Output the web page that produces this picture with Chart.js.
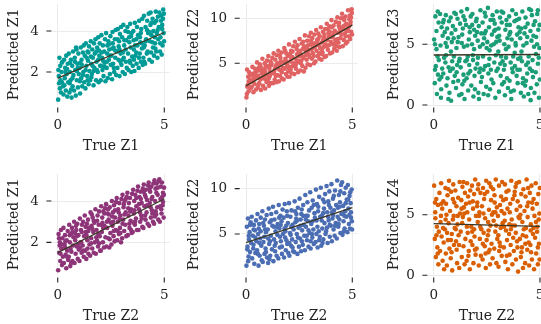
<!DOCTYPE html>
<html><head><meta charset="utf-8">
<script src="https://cdn.jsdelivr.net/npm/chart.js@4/dist/chart.umd.min.js"></script>
<style>
html,body{margin:0;padding:0;background:#fff;overflow:hidden;width:541px;height:324px;position:relative}
canvas{position:absolute;display:block}
</style></head><body>
<script>
// ---- data ----
const trueZ1_predZ1 = [[0.02,0.65],[0.05,1.8],[0.08,2.7],[0.1,1.2],[0.12,2.3],[0.15,1.0],[0.18,2.0],[0.2,1.5],[0.22,2.5],[0.24,1.3],[0.03,2.1],
[0.27,0.9],[0.3,2.6],[0.33,1.7],[0.35,2.2],[0.38,1.1],[0.4,2.8],[0.42,1.9],[0.45,0.8],[0.47,2.4],[0.49,1.5],[0.31,1.35],
[0.52,2.9],[0.55,1.0],[0.57,2.0],[0.6,1.6],[0.62,2.6],[0.65,0.75],[0.68,2.3],[0.7,1.3],[0.72,3.0],[0.74,1.85],[0.58,2.45],
[0.77,1.1],[0.8,2.7],[0.82,2.1],[0.85,0.85],[0.88,3.1],[0.9,1.6],[0.92,2.4],[0.95,1.25],[0.97,2.9],[0.99,1.9],[0.86,3.2],
[1.02,2.2],[1.05,0.95],[1.08,3.2],[1.1,1.7],[1.12,2.6],[1.15,1.3],[1.18,2.95],[1.2,2.0],[1.22,3.3],[1.24,1.5],[1.06,2.45],
[1.27,2.8],[1.3,1.2],[1.32,3.4],[1.35,2.3],[1.38,1.8],[1.4,3.0],[1.42,2.55],[1.45,1.4],[1.47,3.25],[1.49,2.05],[1.36,2.7],
[1.52,1.6],[1.55,3.5],[1.57,2.4],[1.6,1.9],[1.62,3.1],[1.65,2.7],[1.68,1.35],[1.7,3.4],[1.72,2.2],[1.74,2.9],[1.58,1.75],
[1.77,3.6],[1.8,1.6],[1.82,2.5],[1.85,3.2],[1.88,2.0],[1.9,3.7],[1.92,1.5],[1.95,2.8],[1.97,3.4],[1.99,2.3],[1.84,2.1],
[2.02,1.6],[2.05,3.8],[2.08,2.7],[2.1,2.1],[2.12,3.3],[2.15,1.8],[2.18,3.0],[2.2,2.45],[2.22,3.6],[2.24,1.55],[2.06,2.95],
[2.27,3.9],[2.3,2.2],[2.32,2.9],[2.35,1.7],[2.38,3.5],[2.4,2.6],[2.42,3.1],[2.45,1.9],[2.47,3.75],[2.49,2.35],[2.33,3.3],
[2.52,2.8],[2.55,1.65],[2.57,3.95],[2.6,2.4],[2.62,3.2],[2.65,2.0],[2.68,3.6],[2.7,2.7],[2.72,4.05],[2.74,1.85],[2.58,3.4],
[2.77,3.0],[2.8,2.2],[2.82,4.1],[2.85,2.6],[2.88,3.5],[2.9,1.8],[2.92,3.85],[2.95,2.9],[2.97,4.2],[2.99,2.35],[2.86,3.25],
[3.02,3.7],[3.05,2.0],[3.08,4.3],[3.1,2.7],[3.12,3.3],[3.15,1.9],[3.18,4.0],[3.2,2.5],[3.22,3.55],[3.24,2.2],[3.06,2.95],
[3.27,4.2],[3.3,2.9],[3.32,2.1],[3.35,3.7],[3.38,2.55],[3.4,4.35],[3.42,3.2],[3.45,2.0],[3.47,3.9],[3.49,2.75],[3.36,3.45],
[3.52,2.3],[3.55,4.0],[3.57,3.1],[3.6,2.05],[3.62,4.4],[3.65,2.8],[3.68,3.6],[3.7,2.4],[3.72,4.2],[3.74,3.3],[3.58,2.6],
[3.77,3.8],[3.8,2.2],[3.82,4.5],[3.85,2.9],[3.88,3.45],[3.9,2.5],[3.92,4.1],[3.95,3.15],[3.97,4.6],[3.99,2.35],[3.86,3.7],
[4.02,2.7],[4.05,4.75],[4.08,3.3],[4.1,2.4],[4.12,4.2],[4.15,3.6],[4.18,2.9],[4.2,4.5],[4.22,3.0],[4.24,3.9],[4.06,2.5],
[4.27,4.85],[4.3,2.6],[4.32,3.5],[4.35,4.3],[4.38,2.95],[4.4,3.8],[4.42,2.5],[4.45,4.6],[4.47,3.2],[4.49,4.0],[4.36,4.9],
[4.52,2.8],[4.55,4.4],[4.57,3.4],[4.6,4.95],[4.62,3.0],[4.65,3.9],[4.68,2.7],[4.7,4.7],[4.72,3.6],[4.74,4.2],[4.58,3.15],
[4.77,4.9],[4.8,3.0],[4.82,3.7],[4.85,4.5],[4.88,2.85],[4.9,4.1],[4.92,3.3],[4.95,5.05],[4.97,3.9],[4.99,3.5],[4.86,4.75],
[0.13,1.6],[0.36,2.0],[0.63,1.15],[0.9,2.05],[1.13,2.35],[1.4,1.6],[1.63,2.3],[1.9,2.6],[2.13,2.55],[2.4,3.35],[2.63,2.2],[2.9,3.1],[3.13,3.55],[3.4,2.45],[3.63,3.3],[3.9,3.9],[4.13,3.5],[4.4,4.4],[4.63,4.5],[4.9,4.3],
[0.06,1.45],[0.44,2.15],[0.69,1.7],[0.94,2.2],[1.19,1.85],[1.44,2.95],[1.69,2.05],[1.94,3.05],[2.19,2.25],[2.44,2.8],[2.69,3.05],[2.94,2.5],[3.19,3.1],[3.44,3.75],[3.69,2.95],[3.94,3.4],[4.19,4.05],[4.44,3.45],[4.69,4.05],[4.94,4.6],
[0.19,2.45],[0.56,1.45],[0.81,2.5],[1.04,1.55],[1.31,2.1],[1.56,2.75],[1.81,3.0],[2.04,2.3],[2.31,2.5],[2.56,3.15],[2.81,3.6],[3.04,2.6],[3.31,3.95],[3.56,3.55],[3.81,2.7],[4.04,3.2],[4.31,3.95],[4.56,3.7],[4.81,3.4],[4.98,4.85]];

const trueZ1_predZ2 = [[0.02,1.2],[0.05,4.3],[0.08,2.6],[0.1,3.5],[0.12,1.9],[0.15,4.0],[0.18,2.9],[0.2,3.2],[0.22,2.2],[0.24,3.8],[0.04,1.6],
[0.27,2.4],[0.3,4.6],[0.33,3.0],[0.35,1.8],[0.38,3.9],[0.4,2.7],[0.42,4.4],[0.45,3.4],[0.47,2.1],[0.49,4.1],[0.32,3.7],
[0.52,5.1],[0.55,2.3],[0.57,3.6],[0.6,4.5],[0.62,2.8],[0.65,4.9],[0.68,3.2],[0.7,2.05],[0.72,4.2],[0.74,3.9],[0.58,2.6],
[0.77,5.5],[0.8,2.5],[0.82,4.0],[0.85,3.3],[0.88,5.0],[0.9,2.2],[0.92,4.6],[0.95,3.7],[0.97,2.9],[0.99,5.3],[0.84,4.3],
[1.02,3.0],[1.05,5.8],[1.08,2.5],[1.1,4.4],[1.12,3.6],[1.15,5.2],[1.18,2.8],[1.2,4.8],[1.22,3.9],[1.24,5.6],[1.07,3.3],
[1.27,2.8],[1.3,6.1],[1.32,4.1],[1.35,3.2],[1.38,5.4],[1.4,4.6],[1.42,2.9],[1.45,5.9],[1.47,3.7],[1.49,5.0],[1.36,4.4],
[1.52,6.4],[1.55,3.0],[1.57,4.8],[1.6,3.6],[1.62,5.6],[1.65,4.2],[1.68,6.2],[1.7,3.3],[1.72,5.1],[1.74,4.5],[1.58,5.9],
[1.77,3.2],[1.8,6.7],[1.82,4.4],[1.85,5.5],[1.88,3.8],[1.9,6.1],[1.92,4.9],[1.95,3.5],[1.97,5.8],[1.99,4.1],[1.84,6.4],
[2.02,7.1],[2.05,3.5],[2.08,5.2],[2.1,4.3],[2.12,6.4],[2.15,3.9],[2.18,5.7],[2.2,4.7],[2.22,6.9],[2.24,5.0],[2.06,6.0],
[2.27,3.8],[2.3,7.4],[2.32,5.5],[2.35,4.4],[2.38,6.6],[2.4,5.1],[2.42,7.0],[2.45,4.0],[2.47,6.2],[2.49,5.8],[2.34,4.8],
[2.52,7.7],[2.55,4.2],[2.57,6.0],[2.6,5.3],[2.62,7.2],[2.65,4.7],[2.68,6.6],[2.7,5.6],[2.72,4.1],[2.74,6.9],[2.58,5.0],
[2.77,8.1],[2.8,4.5],[2.82,6.3],[2.85,5.4],[2.88,7.5],[2.9,4.9],[2.92,7.0],[2.95,6.0],[2.97,8.0],[2.99,5.7],[2.86,6.7],
[3.02,4.8],[3.05,8.4],[3.08,6.5],[3.1,5.5],[3.12,7.8],[3.15,6.1],[3.18,7.2],[3.2,5.0],[3.22,8.2],[3.24,6.8],[3.06,7.5],
[3.27,5.2],[3.3,8.7],[3.32,6.4],[3.35,7.6],[3.38,5.8],[3.4,8.3],[3.42,7.0],[3.45,5.5],[3.47,8.0],[3.49,6.7],[3.36,7.3],
[3.52,9.0],[3.55,5.4],[3.57,7.3],[3.6,6.2],[3.62,8.5],[3.65,6.8],[3.68,7.9],[3.7,5.7],[3.72,8.8],[3.74,7.1],[3.58,6.0],
[3.77,5.8],[3.8,9.4],[3.82,7.6],[3.85,6.5],[3.88,8.4],[3.9,7.0],[3.92,9.1],[3.95,6.1],[3.97,8.0],[3.99,7.4],[3.86,8.8],
[4.02,9.8],[4.05,6.2],[4.08,8.1],[4.1,7.1],[4.12,9.2],[4.15,6.6],[4.18,8.6],[4.2,7.6],[4.22,9.6],[4.24,6.9],[4.06,7.9],
[4.27,6.4],[4.3,10.1],[4.32,8.4],[4.35,7.3],[4.38,9.5],[4.4,6.8],[4.42,8.9],[4.45,7.8],[4.47,10.0],[4.49,8.2],[4.36,9.2],
[4.52,10.5],[4.55,6.9],[4.57,8.8],[4.6,7.6],[4.62,9.8],[4.65,8.3],[4.68,10.2],[4.7,7.2],[4.72,9.4],[4.74,8.6],[4.58,9.1],
[4.77,7.4],[4.8,10.9],[4.82,9.0],[4.85,8.0],[4.88,10.3],[4.9,7.7],[4.92,9.6],[4.95,8.5],[4.97,11.0],[4.99,8.2],[4.86,9.9],
[0.13,3.0],[0.36,3.3],[0.63,3.4],[0.9,4.1],[1.13,4.0],[1.4,3.6],[1.63,5.2],[1.9,5.2],[2.13,5.5],[2.4,6.0],[2.63,5.8],[2.9,6.4],[3.13,6.7],[3.4,7.7],[3.63,7.6],[3.9,8.0],[4.13,8.4],[4.4,9.0],[4.63,9.2],[4.9,9.3],
[0.06,2.4],[0.44,3.7],[0.69,4.6],[0.94,3.2],[1.19,5.0],[1.44,4.9],[1.69,4.0],[1.94,4.6],[2.19,6.3],[2.44,5.3],[2.69,7.4],[2.94,6.5],[3.19,5.8],[3.44,6.1],[3.69,8.2],[3.94,8.5],[4.19,7.2],[4.44,8.6],[4.69,8.0],[4.94,10.1],
[0.19,3.7],[0.56,4.2],[0.81,3.6],[1.04,4.7],[1.31,3.9],[1.56,4.3],[1.81,5.1],[2.04,4.6],[2.31,4.9],[2.56,6.4],[2.81,5.9],[3.04,7.1],[3.31,7.3],[3.56,6.5],[3.81,6.9],[4.04,9.0],[4.31,7.7],[4.56,10.0],[4.81,8.6],[4.98,10.6]];

const trueZ1_predZ3 = [[0.02,5.4],[0.05,1.8],[0.08,7.3],[0.1,3.2],[0.13,6.1],[0.15,0.9],[0.18,4.0],[0.2,2.5],[0.23,6.8],[0.24,3.7],[0.06,5.0],
[0.27,2.1],[0.3,7.5],[0.32,4.9],[0.35,1.3],[0.37,6.4],[0.4,3.0],[0.42,5.7],[0.45,2.6],[0.47,7.0],[0.49,3.9],[0.34,0.6],
[0.52,6.0],[0.55,3.5],[0.57,7.4],[0.6,1.6],[0.62,4.8],[0.65,2.2],[0.67,5.5],[0.7,3.1],[0.72,6.9],[0.74,1.0],[0.58,4.1],
[0.77,2.8],[0.8,7.2],[0.82,0.35],[0.85,5.2],[0.87,3.6],[0.9,6.5],[0.92,1.9],[0.95,4.0],[0.97,7.6],[0.99,2.4],[0.84,5.9],
[1.02,6.2],[1.05,1.4],[1.07,4.7],[1.1,3.3],[1.12,7.1],[1.15,2.0],[1.17,5.6],[1.2,0.8],[1.22,3.8],[1.24,6.7],[1.08,2.7],
[1.27,3.1],[1.3,7.7],[1.32,5.1],[1.35,1.7],[1.37,6.3],[1.4,2.5],[1.42,4.8],[1.45,0.5],[1.47,7.0],[1.49,3.6],[1.34,5.8],
[1.52,6.6],[1.55,2.2],[1.57,7.9],[1.6,4.0],[1.62,1.2],[1.65,5.4],[1.67,3.3],[1.7,6.0],[1.72,2.8],[1.74,7.3],[1.58,4.9],
[1.77,1.6],[1.8,5.0],[1.82,7.5],[1.85,3.7],[1.87,0.7],[1.9,6.2],[1.92,2.4],[1.95,5.7],[1.97,3.0],[1.99,6.9],[1.84,4.1],
[2.02,7.1],[2.05,3.4],[2.07,5.3],[2.1,1.0],[2.12,6.5],[2.15,2.7],[2.17,4.8],[2.2,7.8],[2.22,1.9],[2.24,5.9],[2.08,3.9],
[2.27,2.3],[2.3,6.8],[2.32,4.0],[2.35,0.9],[2.37,5.5],[2.4,7.6],[2.42,3.2],[2.45,6.1],[2.47,1.5],[2.49,4.7],[2.34,2.9],
[2.52,5.2],[2.55,8.0],[2.57,2.6],[2.6,6.4],[2.62,3.8],[2.65,1.3],[2.67,7.0],[2.7,4.9],[2.72,2.1],[2.74,5.8],[2.58,3.3],
[2.77,7.4],[2.8,1.8],[2.82,5.0],[2.85,3.5],[2.87,6.7],[2.9,0.6],[2.92,4.1],[2.95,2.8],[2.97,7.7],[2.99,5.6],[2.84,6.1],
[3.02,3.0],[3.05,6.3],[3.07,1.1],[3.1,5.3],[3.12,7.2],[3.15,2.4],[3.17,4.0],[3.2,6.8],[3.22,1.7],[3.24,3.6],[3.08,5.7],
[3.27,7.6],[3.3,2.9],[3.32,5.0],[3.35,0.8],[3.37,6.2],[3.4,3.9],[3.42,7.0],[3.45,2.2],[3.47,5.5],[3.49,1.4],[3.34,3.3],
[3.52,4.8],[3.55,7.3],[3.57,2.0],[3.6,6.0],[3.62,3.5],[3.65,0.5],[3.67,5.4],[3.7,7.8],[3.72,2.7],[3.74,4.0],[3.58,6.6],
[3.77,1.2],[3.8,6.9],[3.82,3.2],[3.85,5.1],[3.87,7.5],[3.9,2.4],[3.92,5.8],[3.95,1.8],[3.97,3.8],[3.99,6.4],[3.86,4.9],
[4.02,7.1],[4.05,2.9],[4.07,5.5],[4.1,1.0],[4.12,6.3],[4.15,3.6],[4.17,7.7],[4.2,2.2],[4.22,4.9],[4.24,0.7],[4.08,3.9],
[4.27,5.9],[4.3,1.6],[4.32,7.2],[4.35,3.3],[4.37,5.1],[4.4,2.6],[4.42,6.7],[4.45,0.9],[4.47,4.0],[4.49,7.9],[4.34,2.0],
[4.52,3.0],[4.55,6.1],[4.57,1.4],[4.6,5.3],[4.62,7.4],[4.65,3.7],[4.67,2.3],[4.7,6.6],[4.72,4.8],[4.74,1.0],[4.58,7.8],
[4.77,6.9],[4.8,2.7],[4.82,5.6],[4.85,1.7],[4.87,7.5],[4.9,3.4],[4.92,6.2],[4.95,0.6],[4.97,4.7],[4.99,2.1],[4.86,5.0],
[0.13,4.6],[0.36,2.3],[0.63,6.3],[0.9,3.0],[1.13,5.2],[1.4,7.3],[1.63,2.6],[1.9,4.6],[2.13,0.5],[2.4,5.9],[2.63,4.5],[2.9,6.2],[3.13,3.4],[3.4,4.6],[3.63,1.1],[3.9,7.0],[4.13,4.4],[4.4,5.6],[4.63,2.8],[4.9,7.8],
[0.06,2.9],[0.44,6.8],[0.69,0.5],[0.94,5.5],[1.19,3.6],[1.44,2.0],[1.69,6.4],[1.94,1.3],[2.19,3.0],[2.44,7.3],[2.69,2.9],[2.94,5.2],[3.19,7.7],[3.44,6.6],[3.69,3.0],[3.94,2.9],[4.19,1.8],[4.44,3.5],[4.69,5.7],[4.94,3.9],
[0.19,7.7],[0.56,5.1],[0.81,4.4],[1.04,7.5],[1.31,0.9],[1.56,3.7],[1.81,6.6],[2.04,6.0],[2.31,5.0],[2.56,0.8],[2.81,7.0],[3.04,4.4],[3.31,1.9],[3.56,5.8],[3.81,4.3],[4.04,6.0],[4.31,6.4],[4.56,0.4],[4.81,4.2],[4.98,6.6]];

const trueZ2_predZ1 = [[0.02,0.65],[0.04,2.4],[0.07,1.5],[0.1,2.0],[0.12,1.1],[0.15,2.6],[0.17,1.7],[0.2,0.9],[0.22,2.2],[0.24,1.3],[0.09,1.85],
[0.27,2.7],[0.29,1.0],[0.32,1.9],[0.34,2.35],[0.37,1.4],[0.4,0.75],[0.42,2.1],[0.44,1.6],[0.47,2.55],[0.49,1.15],[0.35,1.75],
[0.52,1.3],[0.54,2.85],[0.57,2.0],[0.59,0.85],[0.62,2.4],[0.64,1.55],[0.67,2.7],[0.69,1.1],[0.72,1.85],[0.74,2.25],[0.6,1.7],
[0.77,3.0],[0.79,1.0],[0.82,2.1],[0.84,1.45],[0.87,2.6],[0.89,1.8],[0.92,2.9],[0.94,1.2],[0.97,2.35],[0.99,1.65],[0.86,2.8],
[1.02,1.1],[1.04,3.15],[1.07,2.0],[1.09,2.6],[1.12,1.5],[1.14,2.85],[1.17,1.85],[1.19,3.0],[1.22,1.3],[1.24,2.3],[1.1,2.0],
[1.27,3.3],[1.29,1.6],[1.32,2.5],[1.34,1.2],[1.37,2.9],[1.39,2.1],[1.42,3.1],[1.44,1.45],[1.47,2.7],[1.49,1.9],[1.35,2.35],
[1.52,1.35],[1.54,3.45],[1.57,2.2],[1.59,2.8],[1.62,1.7],[1.64,3.2],[1.67,2.5],[1.69,1.5],[1.72,2.95],[1.74,2.0],[1.6,3.35],
[1.77,3.6],[1.79,1.45],[1.82,2.6],[1.84,2.1],[1.87,3.3],[1.89,1.8],[1.92,2.85],[1.94,3.5],[1.97,2.3],[1.99,1.6],[1.85,3.05],
[2.02,1.6],[2.04,3.75],[2.07,2.5],[2.09,3.2],[2.12,2.0],[2.14,3.5],[2.17,1.75],[2.19,2.8],[2.22,3.65],[2.24,2.25],[2.1,2.95],
[2.27,3.85],[2.29,1.8],[2.32,2.7],[2.34,3.4],[2.37,2.2],[2.39,3.1],[2.42,1.75],[2.44,3.7],[2.47,2.45],[2.49,2.95],[2.36,3.6],
[2.52,1.9],[2.54,4.0],[2.57,2.8],[2.59,3.45],[2.62,2.3],[2.64,3.8],[2.67,2.05],[2.69,3.2],[2.72,2.6],[2.74,3.95],[2.6,3.0],
[2.77,4.15],[2.79,2.1],[2.82,3.0],[2.84,3.6],[2.87,2.4],[2.89,3.9],[2.92,2.7],[2.94,3.3],[2.97,2.0],[2.99,4.1],[2.86,3.45],
[3.02,2.2],[3.04,4.3],[3.07,3.1],[3.09,3.7],[3.12,2.55],[3.14,4.0],[3.17,2.85],[3.19,3.45],[3.22,2.3],[3.24,4.2],[3.1,3.85],
[3.27,4.4],[3.29,2.35],[3.32,3.3],[3.34,3.9],[3.37,2.7],[3.39,4.15],[3.42,3.05],[3.44,3.6],[3.47,2.45],[3.49,4.35],[3.36,2.9],
[3.52,2.5],[3.54,4.55],[3.57,3.4],[3.59,4.0],[3.62,2.85],[3.64,4.3],[3.67,3.15],[3.69,3.75],[3.72,2.6],[3.74,4.5],[3.6,3.55],
[3.77,4.7],[3.79,2.6],[3.82,3.6],[3.84,4.2],[3.87,3.0],[3.89,4.45],[3.92,3.3],[3.94,3.9],[3.97,2.75],[3.99,4.6],[3.86,3.45],
[4.02,2.7],[4.04,4.8],[4.07,3.75],[4.09,4.3],[4.12,3.1],[4.14,4.55],[4.17,3.45],[4.19,4.05],[4.22,2.9],[4.24,4.75],[4.1,3.3],
[4.27,4.9],[4.29,2.8],[4.32,3.9],[4.34,4.45],[4.37,3.2],[4.39,4.7],[4.42,3.55],[4.44,4.2],[4.47,3.0],[4.49,4.85],[4.36,3.7],
[4.52,2.9],[4.54,5.0],[4.57,4.0],[4.59,4.6],[4.62,3.35],[4.64,4.85],[4.67,3.7],[4.69,4.3],[4.72,3.1],[4.74,4.95],[4.6,3.5],
[4.77,5.05],[4.79,3.0],[4.82,4.1],[4.84,4.7],[4.87,3.4],[4.89,4.9],[4.92,3.8],[4.94,4.4],[4.97,3.2],[4.99,4.65],[4.86,3.6],
[0.13,1.45],[0.36,2.05],[0.63,1.0],[0.9,2.3],[1.13,2.5],[1.4,1.7],[1.63,2.65],[1.9,2.4],[2.13,2.7],[2.4,3.35],[2.63,2.55],[2.9,3.15],[3.13,3.35],[3.4,3.5],[3.63,3.0],[3.9,4.1],[4.13,4.2],[4.4,4.1],[4.63,4.4],[4.9,4.2],
[0.06,2.2],[0.44,1.3],[0.69,2.5],[0.94,1.9],[1.19,1.6],[1.44,2.55],[1.69,3.05],[1.94,1.95],[2.19,3.4],[2.44,2.15],[2.69,3.55],[2.94,2.45],[3.19,4.1],[3.44,2.6],[3.69,4.15],[3.94,3.15],[4.19,3.8],[4.44,3.4],[4.69,4.65],[4.94,3.95],
[0.19,1.9],[0.56,2.35],[0.81,2.45],[1.04,1.75],[1.31,2.75],[1.56,1.95],[1.81,2.25],[2.04,2.85],[2.31,3.0],[2.56,3.25],[2.81,2.55],[3.04,2.9],[3.31,3.65],[3.56,2.95],[3.81,3.85],[4.04,4.45],[4.31,4.6],[4.56,3.25],[4.81,3.75],[4.98,4.3]];

const trueZ2_predZ2 = [[0.02,1.5],[0.04,5.8],[0.07,3.6],[0.09,6.7],[0.12,2.5],[0.14,4.4],[0.17,5.2],[0.19,3.0],[0.22,6.3],[0.24,4.0],[0.1,2.0],
[0.27,6.9],[0.29,2.3],[0.32,4.8],[0.34,3.4],[0.37,6.0],[0.39,1.7],[0.42,5.4],[0.44,2.9],[0.47,6.5],[0.49,4.2],[0.35,3.8],
[0.52,3.2],[0.54,7.2],[0.57,5.0],[0.59,1.5],[0.62,6.1],[0.64,2.6],[0.67,4.5],[0.69,6.8],[0.72,3.7],[0.74,2.1],[0.6,5.6],
[0.77,7.5],[0.79,1.9],[0.82,4.1],[0.84,5.9],[0.87,2.8],[0.89,6.6],[0.92,3.4],[0.94,5.2],[0.97,7.1],[0.99,2.4],[0.86,4.7],
[1.02,5.5],[1.04,1.8],[1.07,7.8],[1.09,3.9],[1.12,6.3],[1.14,2.6],[1.17,4.8],[1.19,7.2],[1.22,3.3],[1.24,5.9],[1.1,2.2],
[1.27,8.0],[1.29,2.0],[1.32,4.4],[1.34,6.6],[1.37,3.1],[1.39,5.3],[1.42,7.4],[1.44,2.6],[1.47,4.9],[1.49,6.1],[1.35,3.7],
[1.52,2.3],[1.54,8.2],[1.57,5.6],[1.59,3.5],[1.62,7.0],[1.64,4.2],[1.67,6.4],[1.69,2.8],[1.72,7.7],[1.74,5.0],[1.6,4.7],
[1.77,6.8],[1.79,2.4],[1.82,8.3],[1.84,4.6],[1.87,3.2],[1.89,5.9],[1.92,7.5],[1.94,3.9],[1.97,6.2],[1.99,2.9],[1.85,5.3],
[2.02,8.4],[2.04,2.6],[2.07,5.1],[2.09,6.9],[2.12,3.7],[2.14,7.6],[2.17,4.4],[2.19,6.0],[2.22,3.1],[2.24,5.5],[2.1,4.9],
[2.27,3.0],[2.29,8.6],[2.32,6.3],[2.34,4.1],[2.37,7.2],[2.39,5.0],[2.42,2.8],[2.44,7.9],[2.47,5.7],[2.49,3.6],[2.36,6.7],
[2.52,8.9],[2.54,4.5],[2.57,6.6],[2.59,3.1],[2.62,7.7],[2.64,5.4],[2.67,3.8],[2.69,8.2],[2.72,6.0],[2.74,4.8],[2.6,7.2],
[2.77,3.2],[2.79,9.3],[2.82,5.8],[2.84,7.0],[2.87,4.3],[2.89,8.5],[2.92,6.4],[2.94,3.6],[2.97,7.6],[2.99,5.1],[2.86,4.8],
[3.02,9.6],[3.04,3.4],[3.07,6.1],[3.09,7.9],[3.12,4.6],[3.14,8.7],[3.17,5.5],[3.19,3.9],[3.22,7.3],[3.24,6.8],[3.1,5.0],
[3.27,4.1],[3.29,9.9],[3.32,6.5],[3.34,8.3],[3.37,3.5],[3.39,7.5],[3.42,5.3],[3.44,9.1],[3.47,4.7],[3.49,6.9],[3.36,5.8],
[3.52,10.1],[3.54,3.7],[3.57,7.0],[3.59,5.6],[3.62,8.8],[3.64,4.4],[3.67,7.8],[3.69,6.2],[3.72,9.4],[3.74,5.0],[3.6,4.0],
[3.77,5.3],[3.79,10.3],[3.82,7.4],[3.84,4.0],[3.87,8.6],[3.89,6.5],[3.92,9.7],[3.94,4.7],[3.97,7.9],[3.99,5.9],[3.86,6.9],
[4.02,10.5],[4.04,4.2],[4.07,6.7],[4.09,8.9],[4.12,5.5],[4.14,7.6],[4.17,4.8],[4.19,9.8],[4.22,6.2],[4.24,8.2],[4.1,7.1],
[4.27,4.5],[4.29,10.9],[4.32,7.9],[4.34,5.8],[4.37,9.3],[4.39,6.6],[4.42,8.5],[4.44,5.1],[4.47,10.4],[4.49,7.2],[4.36,6.1],
[4.52,10.7],[4.54,4.9],[4.57,8.1],[4.59,6.4],[4.62,9.5],[4.64,5.6],[4.67,7.5],[4.69,10.1],[4.72,6.9],[4.74,8.8],[4.6,5.3],
[4.77,5.2],[4.79,10.4],[4.82,7.8],[4.84,6.1],[4.87,9.2],[4.89,5.6],[4.92,8.4],[4.94,6.8],[4.97,9.9],[4.99,5.5],[4.86,7.1],
[0.13,4.8],[0.36,5.5],[0.63,4.0],[0.9,5.5],[1.13,4.2],[1.4,4.0],[1.63,6.0],[1.9,4.3],[2.13,5.8],[2.4,6.5],[2.63,4.2],[2.9,7.0],[3.13,6.4],[3.4,8.0],[3.63,7.3],[3.9,8.2],[4.13,9.2],[4.4,8.0],[4.63,7.0],[4.9,9.6],
[0.06,3.3],[0.44,4.6],[0.69,5.3],[0.94,3.0],[1.19,6.5],[1.44,5.8],[1.69,3.6],[1.94,7.0],[2.19,3.5],[2.44,4.6],[2.69,7.0],[2.94,5.4],[3.19,8.2],[3.44,4.3],[3.69,8.5],[3.94,6.0],[4.19,5.9],[4.44,9.7],[4.69,8.4],[4.94,7.4],
[0.19,6.0],[0.56,2.8],[0.81,6.2],[1.04,4.5],[1.31,5.8],[1.56,6.8],[1.81,5.6],[2.04,4.0],[2.31,7.5],[2.56,5.9],[2.81,6.6],[3.04,4.2],[3.31,5.0],[3.56,6.5],[3.81,5.7],[4.04,7.4],[4.31,6.9],[4.56,7.2],[4.81,8.8],[4.98,6.4]];

const trueZ2_predZ4 = [[0.02,7.4],[0.05,3.0],[0.07,5.2],[0.1,1.5],[0.12,6.3],[0.15,4.0],[0.17,2.3],[0.2,5.8],[0.22,0.9],[0.24,3.6],[0.08,4.7],
[0.27,6.8],[0.3,2.0],[0.32,4.4],[0.35,7.6],[0.37,3.2],[0.4,5.5],[0.42,1.2],[0.45,6.1],[0.47,2.7],[0.49,0.5],[0.34,4.9],
[0.52,3.8],[0.55,7.2],[0.57,1.8],[0.6,5.0],[0.62,0.8],[0.65,6.6],[0.67,2.9],[0.7,4.3],[0.72,7.8],[0.74,2.2],[0.58,5.9],
[0.77,5.3],[0.8,1.4],[0.82,6.9],[0.85,3.4],[0.87,0.4],[0.9,4.6],[0.92,7.5],[0.95,2.5],[0.97,6.0],[0.99,3.9],[0.84,1.9],
[1.02,7.0],[1.05,2.8],[1.07,5.7],[1.1,1.0],[1.12,4.2],[1.15,6.4],[1.17,3.3],[1.2,0.6],[1.22,7.7],[1.24,5.1],[1.08,2.1],
[1.27,3.6],[1.3,6.2],[1.32,1.5],[1.35,7.3],[1.37,4.8],[1.4,2.4],[1.42,5.6],[1.45,0.9],[1.47,6.8],[1.49,3.0],[1.34,4.3],
[1.52,5.9],[1.55,1.2],[1.57,7.6],[1.6,3.5],[1.62,6.5],[1.65,2.0],[1.67,4.6],[1.7,0.5],[1.72,7.0],[1.74,2.8],[1.58,5.2],
[1.77,4.0],[1.8,7.4],[1.82,2.5],[1.85,5.5],[1.87,1.0],[1.9,6.7],[1.92,3.2],[1.95,7.9],[1.97,1.7],[1.99,4.9],[1.84,6.1],
[2.02,2.2],[2.05,6.0],[2.07,4.4],[2.1,7.5],[2.12,0.8],[2.15,5.2],[2.17,3.0],[2.2,6.8],[2.22,1.6],[2.24,3.8],[2.08,7.1],
[2.27,5.7],[2.3,1.3],[2.32,7.2],[2.35,3.5],[2.37,6.3],[2.4,2.4],[2.42,4.7],[2.45,0.6],[2.47,7.8],[2.49,2.9],[2.34,5.1],
[2.52,6.9],[2.55,3.3],[2.57,1.9],[2.6,5.4],[2.62,7.6],[2.65,0.9],[2.67,4.1],[2.7,6.2],[2.72,2.6],[2.74,5.0],[2.58,3.7],
[2.77,1.4],[2.8,7.1],[2.82,4.5],[2.85,2.2],[2.87,6.0],[2.9,3.6],[2.92,7.9],[2.95,1.0],[2.97,5.6],[2.99,3.0],[2.86,6.6],
[3.02,4.9],[3.05,0.7],[3.07,7.4],[3.1,2.7],[3.12,5.8],[3.15,3.9],[3.17,6.5],[3.2,1.6],[3.22,7.7],[3.24,4.3],[3.08,2.0],
[3.27,6.2],[3.3,2.3],[3.32,5.1],[3.35,7.5],[3.37,1.1],[3.4,3.7],[3.42,6.9],[3.45,2.9],[3.47,5.5],[3.49,0.5],[3.34,4.5],
[3.52,7.0],[3.55,3.4],[3.57,1.7],[3.6,5.9],[3.62,2.5],[3.65,7.8],[3.67,4.6],[3.7,0.9],[3.72,6.3],[3.74,3.1],[3.58,5.2],
[3.77,2.0],[3.8,6.6],[3.82,4.1],[3.85,7.3],[3.87,1.3],[3.9,5.4],[3.92,2.8],[3.95,6.1],[3.97,0.3],[3.99,4.8],[3.86,3.5],
[4.02,7.7],[4.05,3.0],[4.07,5.7],[4.1,1.5],[4.12,6.7],[4.15,2.3],[4.17,4.4],[4.2,0.6],[4.22,7.1],[4.24,3.8],[4.08,5.0],
[4.27,5.3],[4.3,1.0],[4.32,6.5],[4.35,3.2],[4.37,7.9],[4.4,2.1],[4.42,4.8],[4.45,6.0],[4.47,2.7],[4.49,0.8],[4.34,3.9],
[4.52,6.8],[4.55,2.5],[4.57,4.2],[4.6,7.4],[4.62,1.3],[4.65,5.5],[4.67,3.4],[4.7,6.3],[4.72,0.5],[4.74,4.9],[4.58,1.9],
[4.77,3.1],[4.8,7.6],[4.82,1.8],[4.85,5.9],[4.87,4.0],[4.9,0.9],[4.92,6.7],[4.95,2.6],[4.97,5.1],[4.99,7.2],[4.86,3.6],
[0.13,3.3],[0.36,5.9],[0.63,3.5],[0.9,6.3],[1.13,4.9],[1.4,7.7],[1.63,1.6],[1.9,3.8],[2.13,4.9],[2.4,6.7],[2.63,2.1],[2.9,5.2],[3.13,2.4],[3.4,6.3],[3.63,3.8],[3.9,7.6],[4.13,1.9],[4.4,5.7],[4.63,6.0],[4.9,2.3],
[0.06,6.0],[0.44,3.9],[0.69,7.1],[0.94,4.9],[1.19,2.5],[1.44,5.1],[1.69,6.0],[1.94,2.1],[2.19,4.0],[2.44,1.8],[2.69,7.3],[2.94,4.1],[3.19,5.3],[3.44,1.6],[3.69,4.1],[3.94,2.3],[4.19,3.3],[4.44,7.2],[4.69,3.9],[4.94,4.6],
[0.19,1.8],[0.56,4.6],[0.81,2.9],[1.04,3.8],[1.31,5.5],[1.56,4.0],[1.81,3.6],[2.04,5.7],[2.31,2.6],[2.56,4.4],[2.81,5.2],[3.04,3.3],[3.31,4.0],[3.56,4.2],[3.81,6.9],[4.04,4.7],[4.31,2.6],[4.56,3.7],[4.81,4.4],[4.98,1.3]];

// regression-line end values (at True = 0 and True = 5)
const fitAt0 = [1.70, 2.50, 4.12, 1.50, 4.05, 4.26];
const fitAt5 = [3.93, 9.25, 4.16, 4.10, 7.90, 4.04];
const xLabels = ["True Z1", "True Z1", "True Z1", "True Z2", "True Z2", "True Z2"];
const yLabels = ["Predicted Z1", "Predicted Z2", "Predicted Z3", "Predicted Z1", "Predicted Z2", "Predicted Z4"];
const xTickValues = [0, 5];
const yTickValues = [[2, 4], [5, 10], [0, 5], [2, 4], [5, 10], [0, 5]];
const yRanges = [[0.39, 5.32], [0.37, 11.59], [0, 8.32], [0.42, 5.31], [0.47, 11.62], [0.02, 8.36]];
const seriesData = [trueZ1_predZ1, trueZ1_predZ2, trueZ1_predZ3, trueZ2_predZ1, trueZ2_predZ2, trueZ2_predZ4];
const colors = ["#009b96", "#e06262", "#1b9e77", "#8e3479", "#4a6db3", "#d95f02"];

// ---- layout ----
Chart.defaults.font.family = "'DejaVu Serif', serif";
Chart.defaults.color = "#222";
const cols = [{left: 0, w: 175, caL: 52.4, caR: 169.6}, {left: 180, w: 183, caL: 60.7, caR: 177.6}, {left: 380, w: 170, caL: 48.4, caR: 165.3}];
const rows = [{top: 0, h: 162, caT: 4, caB: 105}, {top: 162, h: 170, caT: 12, caB: 113}];
const labelFont = {family: "'DejaVu Serif', serif", size: 14};
const tickFont = {family: "'DejaVu Serif', serif", size: 13.5};

const tickMarks = {
  id: 'tickMarks',
  afterDraw(chart) {
    const ctx = chart.ctx, ca = chart.chartArea, xs = chart.scales.x, ys = chart.scales.y;
    ctx.save();
    ctx.strokeStyle = '#222';
    ctx.lineWidth = 1.1;
    ctx.beginPath();
    xs.ticks.forEach(t => {
      const px = xs.getPixelForValue(t.value);
      ctx.moveTo(px, ca.bottom + 2.5); ctx.lineTo(px, ca.bottom + 7.5);
    });
    ys.ticks.forEach(t => {
      const py = ys.getPixelForValue(t.value);
      ctx.moveTo(ca.left - 6, py); ctx.lineTo(ca.left - 1, py);
    });
    ctx.stroke();
    ctx.restore();
  }
};

function zeroPad(s) { s.paddingTop = 0; s.paddingBottom = 0; s.paddingLeft = 0; s.paddingRight = 0; }

for (let i = 0; i < 6; i++) {
  const col = cols[i % 3], row = rows[Math.floor(i / 3)];
  const cv = document.createElement('canvas');
  cv.width = col.w; cv.height = row.h;
  cv.style.left = col.left + 'px'; cv.style.top = row.top + 'px';
  cv.style.width = col.w + 'px'; cv.style.height = row.h + 'px';
  document.body.appendChild(cv);
  const yt = yTickValues[i];
  new Chart(cv, {
    type: 'scatter',
    data: {
      datasets: [
        {type: 'line', data: [{x: 0, y: fitAt0[i]}, {x: 5, y: fitAt5[i]}], borderColor: '#3b3724', borderWidth: 1.3, pointRadius: 0, fill: false, order: 0},
        {data: seriesData[i].map(p => ({x: p[0], y: p[1]})), pointBackgroundColor: colors[i], pointBorderColor: colors[i], pointBorderWidth: 0, pointRadius: 2.3, order: 1}
      ]
    },
    options: {
      responsive: false, animation: false, devicePixelRatio: 1,
      events: [],
      plugins: {legend: {display: false}, tooltip: {enabled: false}},
      layout: {padding: {left: 0, top: row.caT, right: col.w - col.caR, bottom: 0}},
      scales: {
        x: {
          type: 'linear', min: -0.25, max: 5.25,
          afterBuildTicks: s => { s.ticks = xTickValues.map(v => ({value: v})); },
          afterFit: s => { s.height = row.h - row.caB; zeroPad(s); },
          grid: {color: '#ebebeb', lineWidth: 1, drawTicks: false},
          border: {display: false},
          ticks: {padding: 12, font: tickFont, color: '#222', maxRotation: 0},
          title: {display: true, text: xLabels[i], font: labelFont, color: '#222', padding: {top: 0, bottom: 7}}
        },
        y: {
          type: 'linear', min: yRanges[i][0], max: yRanges[i][1],
          afterBuildTicks: s => { s.ticks = yt.map(v => ({value: v})); },
          afterFit: s => { s.width = col.caL; zeroPad(s); },
          grid: {color: '#ebebeb', lineWidth: 1, drawTicks: false},
          border: {display: false},
          ticks: {padding: 13.5, font: tickFont, color: '#222'},
          title: {display: true, text: yLabels[i], font: labelFont, color: '#222', padding: {top: 6, bottom: 0}}
        }
      }
    },
    plugins: [tickMarks]
  });
}
</script>
</body></html>
